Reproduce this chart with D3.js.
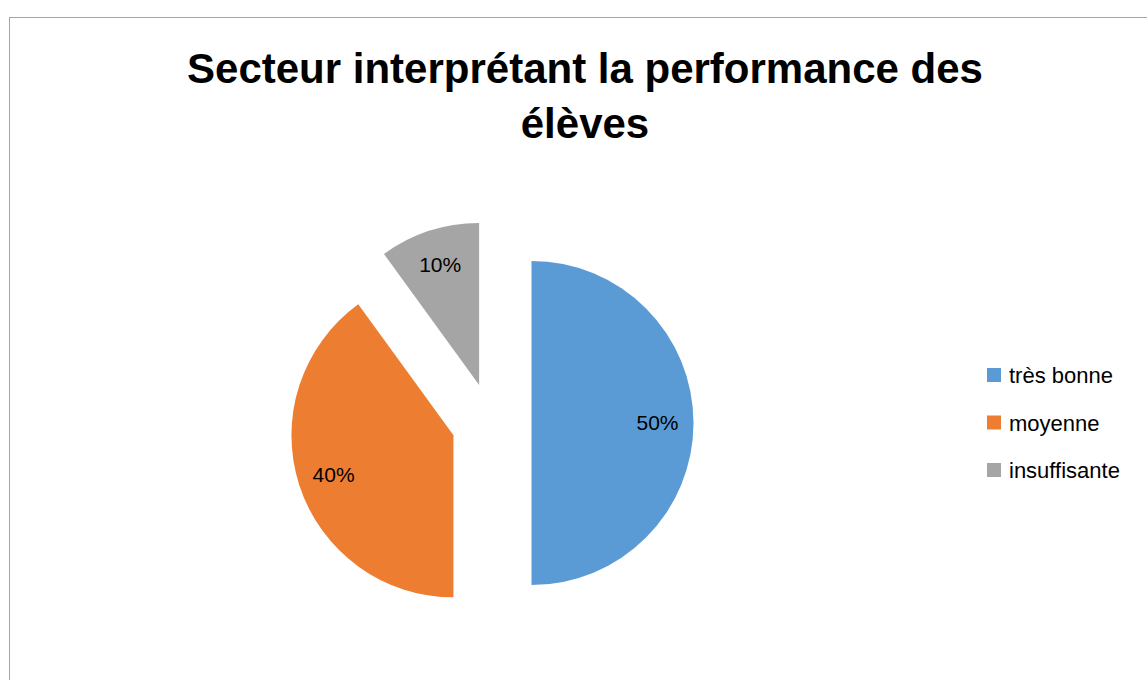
<!DOCTYPE html>
<html>
<head>
<meta charset="utf-8">
<script src="https://cdn.jsdelivr.net/npm/d3@7"></script>
<style>
  body { margin: 0; background: #fff; }
  text { font-family: "Liberation Sans", Arial, sans-serif; }
</style>
</head>
<body>
<svg id="chart" width="1147" height="680"></svg>
<script>
// data
const categories = ["très bonne", "moyenne", "insuffisante"];
const values = [50, 40, 10];
const labels = ["50%", "40%", "10%"];
const colors = ["#5B9BD5", "#ED7D31", "#A5A5A5"];
const titleLines = ["Secteur interprétant la performance des", "élèves"];

const svg = d3.select("#chart");

// chart area border
svg.append("rect")
  .attr("x", 9.5).attr("y", 17.5)
  .attr("width", 1160).attr("height", 700)
  .attr("fill", "none")
  .attr("stroke", "#a6a6a6")
  .attr("stroke-width", 1);

// title
svg.append("text")
  .attr("x", 585).attr("y", 83)
  .attr("text-anchor", "middle")
  .style("font-size", "42px")
  .style("font-weight", "bold")
  .selectAll("tspan")
  .data(titleLines)
  .enter().append("tspan")
  .attr("x", 585)
  .attr("dy", (d, i) => i === 0 ? 0 : 55)
  .text(d => d);

// pie
const cx = 491.5, cy = 423, radius = 162, explode = 40;

const pie = d3.pie().sort(null).value(d => d);
const arc = d3.arc().innerRadius(0).outerRadius(radius);
// centroid at 126px from the slice center
const labelArc = d3.arc().innerRadius(126).outerRadius(126);

const arcs = pie(values);

const g = svg.append("g")
  .attr("transform", "translate(" + cx + "," + cy + ")");

const slice = g.selectAll(".slice")
  .data(arcs)
  .enter().append("g")
  .attr("class", "slice")
  .attr("transform", function(d) {
    const a = (d.startAngle + d.endAngle) / 2;
    return "translate(" + (Math.sin(a) * explode) + "," + (-Math.cos(a) * explode) + ")";
  });

slice.append("path")
  .attr("d", arc)
  .attr("fill", (d, i) => colors[i]);

slice.append("text")
  .attr("transform", d => "translate(" + labelArc.centroid(d) + ")")
  .attr("text-anchor", "middle")
  .attr("dy", "0.35em")
  .style("font-size", "21px")
  .attr("fill", "#000")
  .text((d, i) => labels[i]);

// legend
const legend = svg.append("g")
  .attr("transform", "translate(987,368)");

const item = legend.selectAll(".item")
  .data(categories)
  .enter().append("g")
  .attr("class", "item")
  .attr("transform", (d, i) => "translate(0," + (i * 47.5) + ")");

item.append("rect")
  .attr("width", 14).attr("height", 14)
  .attr("fill", (d, i) => colors[i]);

item.append("text")
  .attr("x", 22).attr("y", 15)
  .style("font-size", "22px")
  .attr("fill", "#000")
  .text(d => d);
</script>
</body>
</html>
